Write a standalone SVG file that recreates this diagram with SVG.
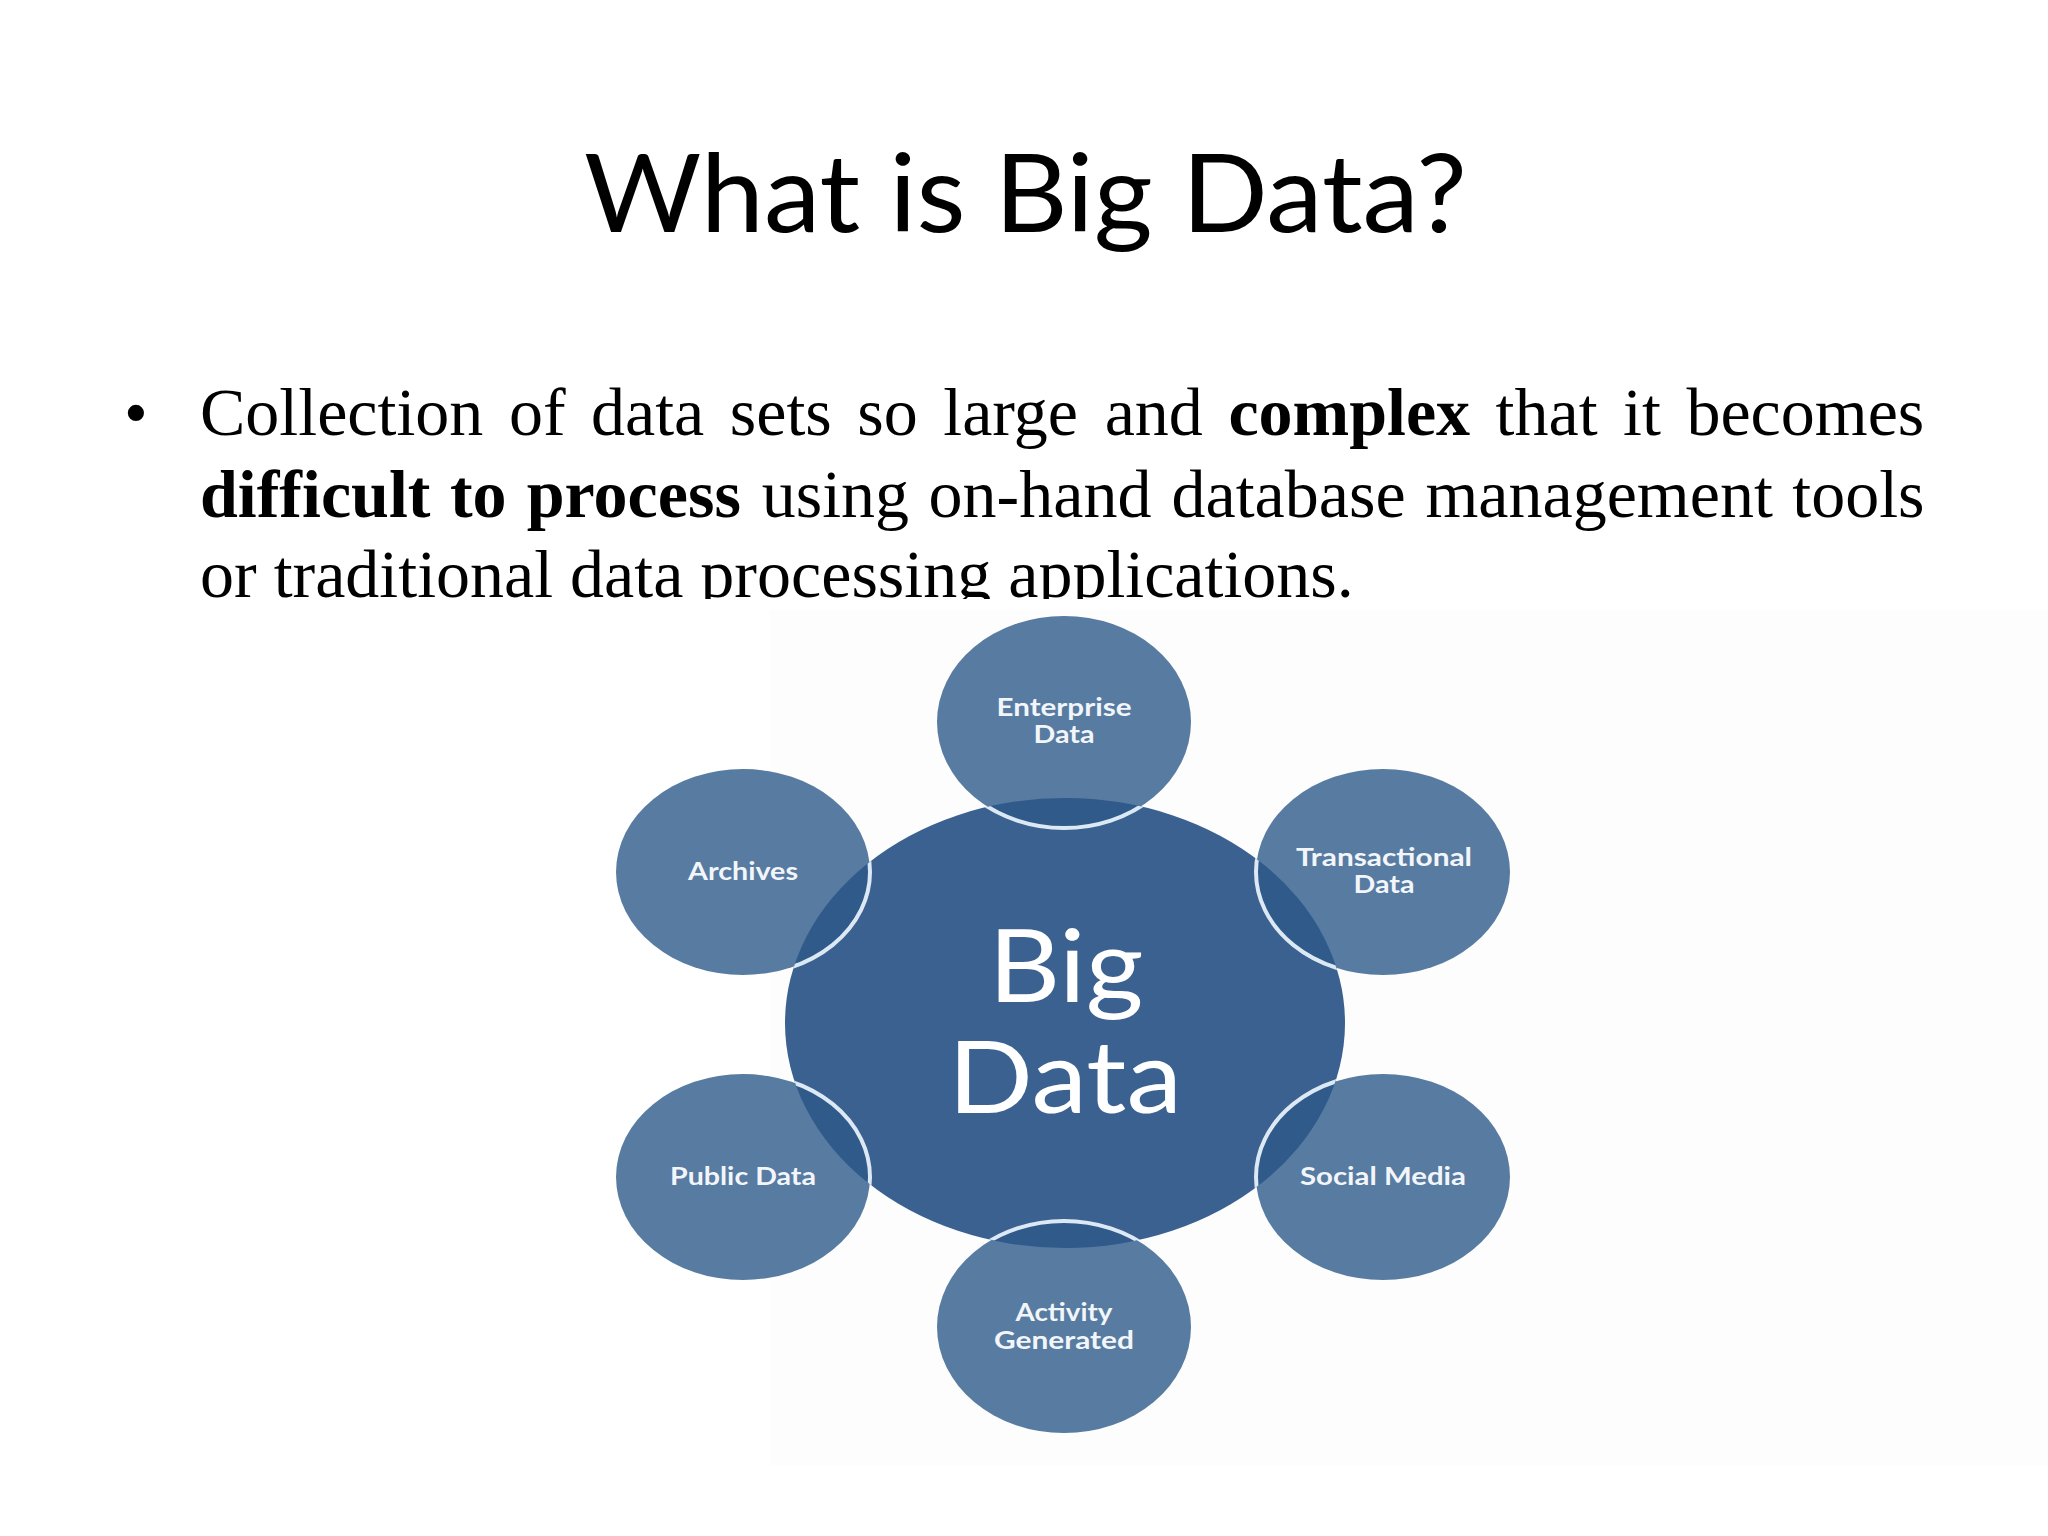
<svg xmlns="http://www.w3.org/2000/svg" width="2048" height="1536" viewBox="0 0 2048 1536">
<style>
.title{font-family:Lato,"Open Sans","Liberation Sans",sans-serif;font-size:109px;fill:#000}
.body{font-family:"Liberation Serif","Times New Roman",serif;font-size:68px;fill:#000}
.b{font-weight:bold}
.sat{fill:#587ba1}
.ov{fill:#2f5a89}
.rim{fill:none;stroke:#dce9f4;stroke-width:4}
.lbl{font-family:Lato,"Open Sans","Liberation Sans",sans-serif;font-weight:bold;font-size:24px;fill:#f2f6fa;text-anchor:middle}
.hub{font-family:Lato,"Open Sans","Liberation Sans",sans-serif;font-size:100px;fill:#ffffff;text-anchor:middle}
</style>
<defs>
<clipPath id="hubClip"><ellipse cx="1065" cy="1023" rx="280" ry="225"/></clipPath>
<clipPath id="line3Clip"><rect x="0" y="530" width="2048" height="69"/></clipPath>
</defs>
<rect width="2048" height="1536" fill="#ffffff"/>
<rect x="770" y="610" width="1278" height="855" fill="#fdfdfd"/>

<g id="title">
<text class="title" x="584" y="232" textLength="883" lengthAdjust="spacingAndGlyphs">What is Big Data?</text>
</g>

<g id="bullet">
<text class="body" x="124" y="435">•</text>
<text class="body" y="435"><tspan x="200">Collection</tspan><tspan x="508.9">of</tspan><tspan x="591">data</tspan><tspan x="729.8">sets</tspan><tspan x="857.3">so</tspan><tspan x="943.3">large</tspan><tspan x="1104.7">and</tspan><tspan x="1228.4" class="b">complex</tspan><tspan x="1495.6">that</tspan><tspan x="1623.1">it</tspan><tspan x="1686.4">becomes</tspan></text>
<text class="body" y="517"><tspan x="200" class="b">difficult</tspan><tspan x="449.9" class="b">to</tspan><tspan x="526.8" class="b">process</tspan><tspan x="761.7">using</tspan><tspan x="928.6">on-hand</tspan><tspan x="1171.5">database</tspan><tspan x="1425.4">management</tspan><tspan x="1792.3">tools</tspan></text>
<text class="body" x="200" y="597" clip-path="url(#line3Clip)">or traditional data processing applications.</text>
</g>

<g id="big-data">
<ellipse cx="1065" cy="1023" rx="280" ry="225" fill="#3a6190"/>
<text class="hub" x="1066" y="1002" textLength="155" lengthAdjust="spacingAndGlyphs">Big</text>
<text class="hub" x="1065" y="1113" textLength="234" lengthAdjust="spacingAndGlyphs">Data</text>
</g>

<g id="enterprise-data">
<ellipse class="sat" cx="1064" cy="722" rx="127" ry="106"/>
<ellipse class="ov" cx="1064" cy="722" rx="127" ry="106" clip-path="url(#hubClip)"/>
<ellipse class="rim" cx="1064" cy="722" rx="127" ry="106" clip-path="url(#hubClip)"/>
<text class="lbl" x="1064" y="716" textLength="135" lengthAdjust="spacingAndGlyphs">Enterprise</text>
<text class="lbl" x="1064" y="743" textLength="61" lengthAdjust="spacingAndGlyphs">Data</text>
</g>

<g id="archives">
<ellipse class="sat" cx="743" cy="872" rx="127" ry="103"/>
<ellipse class="ov" cx="743" cy="872" rx="127" ry="103" clip-path="url(#hubClip)"/>
<ellipse class="rim" cx="743" cy="872" rx="127" ry="103" clip-path="url(#hubClip)"/>
<text class="lbl" x="743" y="880" textLength="110" lengthAdjust="spacingAndGlyphs">Archives</text>
</g>

<g id="transactional-data">
<ellipse class="sat" cx="1383" cy="872" rx="127" ry="103"/>
<ellipse class="ov" cx="1383" cy="872" rx="127" ry="103" clip-path="url(#hubClip)"/>
<ellipse class="rim" cx="1383" cy="872" rx="127" ry="103" clip-path="url(#hubClip)"/>
<text class="lbl" x="1384" y="866" textLength="176" lengthAdjust="spacingAndGlyphs">Transactional</text>
<text class="lbl" x="1384" y="893" textLength="61" lengthAdjust="spacingAndGlyphs">Data</text>
</g>

<g id="public-data">
<ellipse class="sat" cx="743" cy="1177" rx="127" ry="103"/>
<ellipse class="ov" cx="743" cy="1177" rx="127" ry="103" clip-path="url(#hubClip)"/>
<ellipse class="rim" cx="743" cy="1177" rx="127" ry="103" clip-path="url(#hubClip)"/>
<text class="lbl" x="743" y="1185" textLength="146" lengthAdjust="spacingAndGlyphs">Public Data</text>
</g>

<g id="social-media">
<ellipse class="sat" cx="1383" cy="1177" rx="127" ry="103"/>
<ellipse class="ov" cx="1383" cy="1177" rx="127" ry="103" clip-path="url(#hubClip)"/>
<ellipse class="rim" cx="1383" cy="1177" rx="127" ry="103" clip-path="url(#hubClip)"/>
<text class="lbl" x="1383" y="1185" textLength="166" lengthAdjust="spacingAndGlyphs">Social Media</text>
</g>

<g id="activity-generated">
<ellipse class="sat" cx="1064" cy="1327" rx="127" ry="106"/>
<ellipse class="ov" cx="1064" cy="1327" rx="127" ry="106" clip-path="url(#hubClip)"/>
<ellipse class="rim" cx="1064" cy="1327" rx="127" ry="106" clip-path="url(#hubClip)"/>
<text class="lbl" x="1064" y="1321" textLength="97" lengthAdjust="spacingAndGlyphs">Activity</text>
<text class="lbl" x="1064" y="1349" textLength="140" lengthAdjust="spacingAndGlyphs">Generated</text>
</g>
</svg>
